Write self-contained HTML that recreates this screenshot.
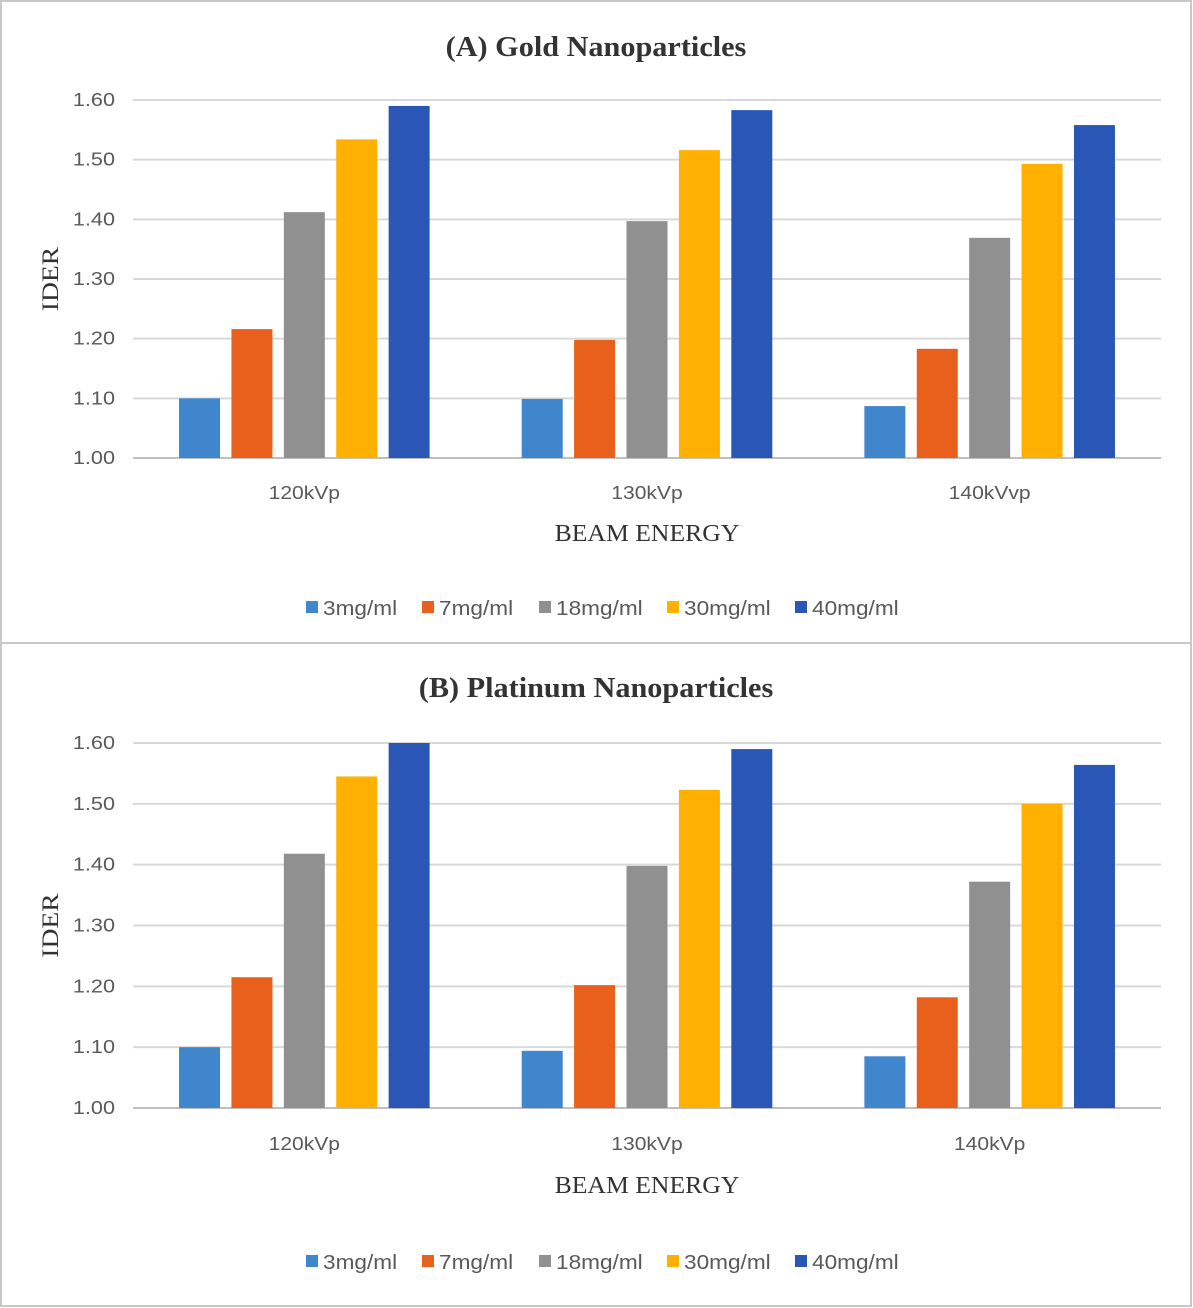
<!DOCTYPE html>
<html><head><meta charset="utf-8"><style>
body{margin:0;background:#fff;}
svg{display:block;}
</style></head><body>
<svg id="chart" width="1193" height="1308" xmlns="http://www.w3.org/2000/svg">
<rect x="1" y="1" width="1190" height="1305" fill="#fff" stroke="#c8c8c8" stroke-width="2"/>
<line x1="1" y1="643" x2="1191" y2="643" stroke="#c8c8c8" stroke-width="2"/>
</svg>
<script>
const categoriesA = ["120kVp","130kVp","140kVvp"];
const categoriesB = ["120kVp","130kVp","140kVp"];
const seriesNames = ["3mg/ml","7mg/ml","18mg/ml","30mg/ml","40mg/ml"];
const seriesColors = ["#3f86cd","#e8601c","#909090","#ffb000","#2a57b6"];
const goldValues = [
  [1.100,1.099,1.087],
  [1.216,1.198,1.183],
  [1.412,1.397,1.369],
  [1.534,1.516,1.493],
  [1.590,1.583,1.558]
];
const platValues = [
  [1.100,1.094,1.085],
  [1.215,1.202,1.182],
  [1.418,1.398,1.372],
  [1.545,1.523,1.500],
  [1.600,1.590,1.564]
];
const yTicks = [1.00,1.10,1.20,1.30,1.40,1.50,1.60];

const svg = document.getElementById('chart');
const NS = "http://www.w3.org/2000/svg";
function mk(tag, attrs, text){
  const e = document.createElementNS(NS, tag);
  for (const k in attrs) e.setAttribute(k, attrs[k]);
  if (text !== undefined) e.textContent = text;
  svg.appendChild(e);
  return e;
}
function stretch(e, f){
  const w = e.getComputedTextLength();
  if (w > 0) { e.setAttribute('textLength', (w * f).toFixed(1)); e.setAttribute('lengthAdjust', 'spacingAndGlyphs'); }
}
function panel(key, title, cats, values, o){
  const x0 = 133, x1 = 1161;
  const yScale = v => o.yBase - (v - 1.0) / 0.6 * (o.yBase - o.yTop);
  const catW = (x1 - x0) / cats.length;
  let t = mk('text', {x: 596, y: o.titleY, 'text-anchor':'middle', 'font-family':'"Liberation Serif", serif', 'font-weight':'bold', 'font-size':'28', fill:'#333'}, title);
  
  
  stretch(t, 1.08);
  yTicks.forEach(v => {
    const y = yScale(v);
    const g = mk('line', {x1: x0, x2: x1, y1: y, y2: y, stroke: v === 1.0 ? '#bfbfbf' : '#d9d9d9', 'stroke-width': 2});
    
    
    const l = mk('text', {x: 115, y: y + 6, 'text-anchor':'end', 'font-family':'"Liberation Sans", sans-serif', 'font-size':'18', fill:'#595959'}, v.toFixed(2));
    
    
    stretch(l, 1.2);
  });
  const yc = (o.yBase + o.yTop) / 2;
  const yt = mk('text', {x: 58, y: yc, 'text-anchor':'middle', transform: 'rotate(-90 58 ' + yc + ')', 'font-family':'"Liberation Serif", serif', 'font-size':'23', fill:'#333'}, 'IDER');
  
  
  stretch(yt, 1.2);
  const bw = 41, step = 52.4;
  cats.forEach((c, i) => {
    const cx = x0 + catW * (i + 0.5);
    values.forEach((ser, s) => {
      const v = ser[i];
      const bx = cx - 2 * step - bw / 2 + s * step;
      const b = mk('rect', {x: bx, y: yScale(v), width: bw, height: o.yBase - yScale(v), fill: seriesColors[s]});
      
      
    });
    const xl = mk('text', {x: cx, y: o.xLabY, 'text-anchor':'middle', 'font-family':'"Liberation Sans", sans-serif', 'font-size':'18', fill:'#595959'}, c);
    
    
    stretch(xl, 1.17);
  });
  const xt = mk('text', {x: 647, y: o.xTitleY, 'text-anchor':'middle', 'font-family':'"Liberation Serif", serif', 'font-size':'24', fill:'#333'}, 'BEAM ENERGY');
  
  
  stretch(xt, 1.07);
  const lx = [306, 422, 539, 667, 795];
  seriesNames.forEach((n, s) => {
    const sw = mk('rect', {x: lx[s], y: o.legY - 14, width: 12, height: 12, fill: seriesColors[s]});
    
    
    const lt = mk('text', {x: lx[s] + 17, y: o.legY, 'font-family':'"Liberation Sans", sans-serif', 'font-size':'20', fill:'#595959'}, n);
    
    
    stretch(lt, 1.13);
  });
}
panel('gold', '(A) Gold Nanoparticles', categoriesA, goldValues, {yBase: 458, yTop: 100, titleY: 56, xLabY: 499, xTitleY: 541, legY: 615});
panel('platinum', '(B) Platinum Nanoparticles', categoriesB, platValues, {yBase: 1108, yTop: 743, titleY: 697, xLabY: 1150, xTitleY: 1193, legY: 1269});
</script>
</body></html>
